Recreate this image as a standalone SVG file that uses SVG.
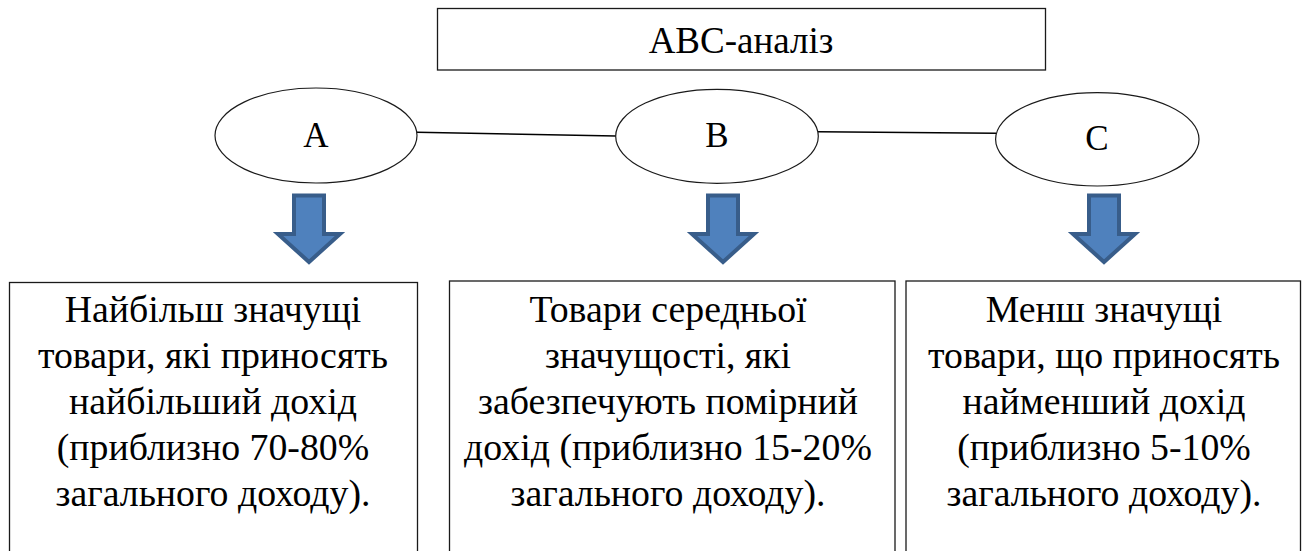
<svg xmlns="http://www.w3.org/2000/svg" width="1305" height="551" viewBox="0 0 1305 551">
<defs>
<style>
.box{fill:#fff;stroke:#1a1a1a;stroke-width:1.3}
.ell{fill:#fff;stroke:#1a1a1a;stroke-width:1.2}
.t{font-family:'Liberation Serif','DejaVu Serif',serif;fill:#000;text-anchor:middle}
.title{font-size:37px}
.letter{font-size:35px}
.body{font-size:37.8px}
.conn{stroke:#000;stroke-width:1.6;fill:none}
.arrow{fill:#4F81BD;stroke:#385D8A;stroke-width:4;stroke-linejoin:miter}
</style>
<path id="darrow" d="M-15,195.5 H15 V234 H31 L0,262 L-31,234 H-15 Z"/>
</defs>
<rect width="1305" height="551" fill="#fff"/>
<g id="connectors">
<line class="conn" x1="417" y1="132.3" x2="616" y2="136"/>
<line class="conn" x1="818" y1="131.7" x2="996" y2="133.3"/>
</g>
<g font-family="Liberation Serif, DejaVu Serif, serif">
<g id="title">
<rect class="box" x="437.5" y="8.5" width="608" height="61.5"/>
<text class="t title" x="741" y="52.5">ABC-аналіз</text>
</g>
<g id="nodeA">
<ellipse class="ell" cx="316" cy="135.5" rx="101" ry="47.5"/>
<text class="t letter" x="316" y="147">A</text>
</g>
<g id="nodeB">
<ellipse class="ell" cx="717" cy="136.3" rx="101.3" ry="47"/>
<text class="t letter" x="717" y="147">B</text>
</g>
<g id="nodeC">
<ellipse class="ell" cx="1097.3" cy="139.3" rx="101.7" ry="46.7"/>
<text class="t letter" x="1097" y="150">C</text>
</g>
<g id="arrowA"><use href="#darrow" class="arrow" transform="translate(309,0)"/></g>
<g id="arrowB"><use href="#darrow" class="arrow" transform="translate(723,0)"/></g>
<g id="arrowC"><use href="#darrow" class="arrow" transform="translate(1104,0)"/></g>
<g id="boxA">
<rect class="box" x="9.5" y="282.5" width="408" height="280"/>
<text class="t body" x="213" y="322">Найбільш значущі</text>
<text class="t body" x="213" y="368">товари, які приносять</text>
<text class="t body" x="213" y="414">найбільший дохід</text>
<text class="t body" x="213" y="460">(приблизно 70-80%</text>
<text class="t body" x="213" y="506">загального доходу).</text>
</g>
<g id="boxB">
<rect class="box" x="449.5" y="281" width="445.5" height="280"/>
<text class="t body" x="668" y="322">Товари середньої</text>
<text class="t body" x="668" y="368">значущості, які</text>
<text class="t body" x="668" y="414">забезпечують помірний</text>
<text class="t body" x="668" y="460">дохід (приблизно 15-20%</text>
<text class="t body" x="668" y="506">загального доходу).</text>
</g>
<g id="boxC">
<rect class="box" x="906" y="281" width="394.5" height="280"/>
<text class="t body" x="1104" y="322">Менш значущі</text>
<text class="t body" x="1104" y="368">товари, що приносять</text>
<text class="t body" x="1104" y="414">найменший дохід</text>
<text class="t body" x="1104" y="460">(приблизно 5-10%</text>
<text class="t body" x="1104" y="506">загального доходу).</text>
</g>
</g>
</svg>
